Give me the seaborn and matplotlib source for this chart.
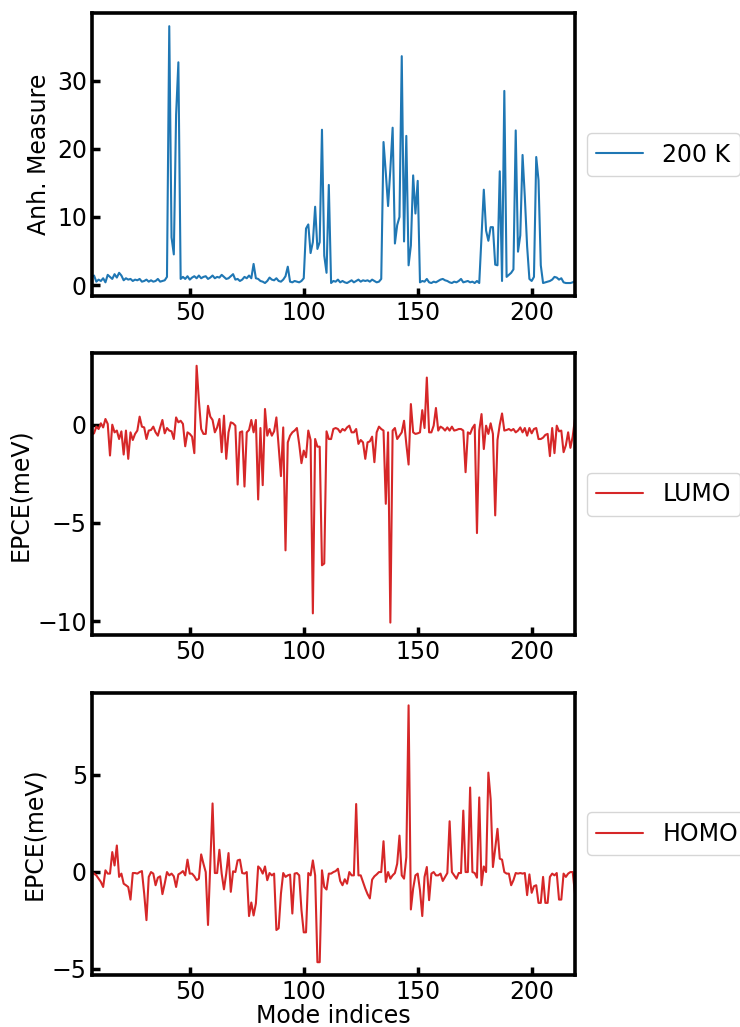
import numpy as np
import pandas as pd
import matplotlib
matplotlib.use("Agg")
import matplotlib.pyplot as plt
from matplotlib.ticker import MultipleLocator
import seaborn as sns

# --- data: modes 7..219 ---
anh_200k = [
    1.2, 1.4, 0.5, 0.8, 0.6, 1.0, 0.4, 1.5, 1.2, 0.9,
    1.6, 1.1, 1.8, 1.4, 0.7, 1.0, 0.8, 0.9, 0.6, 0.8,
    0.7, 0.9, 0.5, 0.6, 0.8, 0.5, 0.7, 0.5, 0.6, 0.9,
    0.5, 0.6, 0.7, 1.2, 38.0, 7.0, 4.5, 25.0, 32.7, 0.9,
    1.2, 0.9, 1.3, 0.8, 1.1, 1.3, 1.0, 1.4, 1.0, 1.2,
    1.3, 0.9, 1.1, 1.4, 1.0, 1.2, 1.1, 1.5, 1.2, 0.9,
    1.0, 1.3, 1.6, 0.8, 0.9, 0.6, 0.8, 1.2, 1.0, 1.4,
    1.0, 3.1, 1.0, 0.9, 0.6, 0.5, 0.3, 0.6, 1.1, 0.8,
    0.7, 1.0, 0.6, 0.5, 0.8, 1.3, 2.7, 0.5, 0.4, 0.6,
    0.5, 0.4, 0.6, 1.0, 8.3, 8.9, 4.7, 6.3, 11.5, 5.3,
    6.3, 22.8, 4.3, 1.8, 14.7, 0.3, 0.6, 0.5, 0.8, 0.4,
    0.6, 0.4, 0.3, 0.5, 0.7, 0.4, 0.6, 0.8, 0.5, 0.7,
    0.6, 0.7, 0.5, 0.8, 0.6, 0.4, 0.5, 0.9, 21.0, 16.5,
    11.6, 17.0, 23.1, 6.1, 8.8, 10.0, 33.6, 6.4, 21.9, 2.9,
    5.8, 16.1, 10.5, 15.3, 0.4, 0.6, 0.5, 0.9, 0.4, 0.3,
    0.5, 0.4, 0.6, 0.8, 0.9, 0.7, 0.6, 0.4, 0.3, 0.5,
    0.4, 0.6, 0.9, 0.4, 0.5, 0.6, 0.4, 0.5, 0.3, 0.6,
    0.3, 7.0, 14.0, 8.0, 6.5, 8.5, 8.5, 3.0, 2.9, 16.7,
    0.6, 28.5, 1.2, 1.5, 1.8, 2.3, 22.7, 4.9, 7.3, 19.1,
    12.9, 5.7, 0.9, 0.6, 1.2, 18.8, 15.4, 2.9, 0.3, 0.4,
    0.5, 0.6, 0.8, 1.2, 1.1, 0.8, 1.0, 0.4, 0.3, 0.3,
    0.3, 0.4, 0.6,
]

epce_lumo = [
    -0.5, -0.44, -0.10, -0.22, 0.07, -0.14, 0.29, 0.04, -1.57, 0.0,
    -0.39, -0.30, -0.73, -0.34, -1.52, -0.30, -1.74, -0.39, -0.78, -0.47,
    -0.30, 0.41, -0.10, -0.14, -0.73, -0.30, -0.27, -0.10, -0.39, -0.56,
    -0.14, 0.24, -0.44, -0.17, -0.30, -0.34, -0.73, 0.37, 0.12, 0.20,
    0.04, -1.10, -0.39, -0.47, -0.61, -1.45, 3.0, 1.22, -0.22, -0.47,
    -0.47, 0.96, 0.41, 0.24, -0.39, -0.14, 0.29, -1.40, 0.46, -1.74,
    -0.39, 0.12, 0.07, -0.05, -3.05, -0.39, -0.34, -3.15, -0.39, -0.27,
    0.24, -0.39, 0.24, -3.81, -0.17, -3.08, 0.80, -0.56, -0.22, -0.56,
    -0.34, 0.37, -1.15, -2.62, -0.14, -6.40, -0.90, -0.56, -0.39, -0.30,
    -0.17, -0.98, -1.96, -1.32, -1.66, -0.30, -0.78, -9.61, -0.73, -1.12,
    -1.12, -7.16, -7.07, -0.34, -0.73, -0.73, -0.22, -0.17, -0.22, -0.39,
    -0.22, -0.30, -0.14, -0.05, -0.39, -0.39, -0.22, -0.98, -0.78, -0.90,
    -1.74, -0.90, -0.85, -0.61, -1.91, -0.39, -0.10, -0.22, -0.30, -4.03,
    -0.39, -10.08, -0.30, -0.17, -0.73, -0.56, -0.39, 0.20, -0.98, -2.03,
    1.05, -0.39, -0.47, -0.44, -0.39, 0.74, -0.17, 2.40, -0.39, -0.39,
    -0.05, 0.85, -0.30, -0.10, -0.17, -0.30, -0.14, -0.30, -0.10, -0.30,
    -0.27, -0.22, -0.22, -0.30, -2.42, -0.39, -0.47, -0.17, 0.0, -5.52,
    -0.30, 0.54, -1.24, -0.05, -0.47, 0.07, -0.47, -4.62, -0.78, 0.0,
    0.57, -0.30, -0.27, -0.22, -0.30, -0.22, -0.39, -0.30, -0.14, -0.39,
    -0.17, -0.56, -0.17, -0.44, -0.22, -0.17, -0.73, -0.73, -0.66, -0.52,
    -0.47, -1.6, -0.17, -1.45, -0.05, -0.34, -0.30, -1.40, -1.05, -0.39,
    -1.18, -0.6, 0.3,
]

epce_homo = [
    0.0, -0.10, -0.19, -0.36, -0.53, -0.79, 0.07, -0.10, -0.10, 1.01,
    0.32, 1.35, -0.27, -0.10, -0.62, -0.70, -0.79, -1.44, -0.07, -0.07,
    -0.10, -0.02, 0.03, -1.13, -2.50, -0.27, -0.02, -0.10, -0.70, -0.31,
    -0.24, -1.16, -0.62, -0.02, -0.19, -0.10, -0.24, -0.79, -0.14, -0.07,
    0.03, -0.19, 0.62, -0.10, -0.10, -0.24, -0.44, -0.36, 0.89, 0.41,
    -0.02, -2.75, 0.4, 3.52, -0.07, -0.07, 1.13, -0.10, -0.91, -0.10,
    0.96, -1.04, 0.02, -0.02, 0.58, 0.62, -0.07, -0.10, -0.02, -2.29,
    -1.59, -2.26, -1.64, 0.27, 0.15, -0.10, 0.27, -0.44, -0.07, -0.19,
    -0.10, -3.01, -2.92, -1.13, -0.07, -0.27, -0.19, -0.15, -2.16, -0.10,
    -0.07, -0.19, -1.98, -3.13, -3.13, -0.07, -0.19, 0.58, -0.19, -4.67,
    -4.67, 0.07, -0.79, -0.92, -0.10, -0.10, -0.02, 0.03, 0.15, -0.48,
    -0.70, -0.39, -0.62, -0.02, -0.19, -0.19, 3.49, -0.19, -0.19, -0.53,
    -0.87, -1.16, -1.38, -0.41, -0.24, -0.14, -0.02, -0.02, 1.57, -0.53,
    -0.02, -0.36, -0.19, -0.07, 0.41, 1.86, -0.19, -0.36, 0.75, 8.58,
    -1.95, -0.87, -0.19, -0.10, -0.96, -2.29, -0.27, 0.24, -1.47, -0.10,
    -0.02, -0.19, -0.19, -0.10, -0.48, -0.27, -0.07, 2.60, -0.02, -0.19,
    -0.36, -0.07, -0.07, 3.15, -0.02, -0.02, 4.34, -0.02, -0.07, -0.31,
    3.83, -0.70, 0.27, -0.02, 5.11, 3.74, 0.24, 1.2, 2.21, 0.67,
    0.62, -0.02, -0.10, -0.10, -0.70, -0.44, -0.07, -0.10, -0.07, -0.10,
    -0.07, -1.21, -0.14, -1.09, -0.75, -0.70, -1.61, -1.61, -0.27, -1.61,
    -1.61, -0.27, -0.10, -0.19, -0.07, -1.44, -1.44, -0.10, -0.27, -0.10,
    -0.02, -0.02, -1.13,
]

modes = np.arange(7, 7 + len(anh_200k))

panels = [
    (anh_200k, "200 K", "Anh. Measure", "#1f77b4", 10),
    (epce_lumo, "LUMO", "EPCE(meV)", "#d62728", 5),
    (epce_homo, "HOMO", "EPCE(meV)", "#d62728", 5),
]

sns.set_style("ticks")
plt.rcParams.update({
    "font.family": ["DejaVu Sans"],
    "font.size": 17,
    "axes.edgecolor": "black",
    "axes.labelcolor": "black",
    "xtick.color": "black",
    "ytick.color": "black",
    "text.color": "black",
})

fig, axes = plt.subplots(3, 1, figsize=(7.4, 10.27), dpi=100)
fig.subplots_adjust(left=0.124, right=0.777, top=0.987, bottom=0.0506, hspace=0.202)

for ax, (vals, lab, ylab, col, step) in zip(axes, panels):
    df = pd.DataFrame({"mode": modes, "value": vals})
    sns.lineplot(data=df, x="mode", y="value", ax=ax, color=col, linewidth=1.5, label=lab)
    ax.set_xlim(modes[0], modes[-1])
    ax.xaxis.set_major_locator(MultipleLocator(50))
    ax.yaxis.set_major_locator(MultipleLocator(step))
    ax.set_ylabel(ylab, fontsize=17)
    ax.set_xlabel("")
    ax.tick_params(direction="in", length=6, width=2.5, labelsize=17, top=False, right=False)
    for sp in ax.spines.values():
        sp.set_linewidth(2.6)
        sp.set_visible(True)
    ax.legend(loc="center left", bbox_to_anchor=(1.0, 0.5), fontsize=17)

axes[-1].set_xlabel("Mode indices", fontsize=17, labelpad=0)

fig.savefig("out.png", dpi=100)
